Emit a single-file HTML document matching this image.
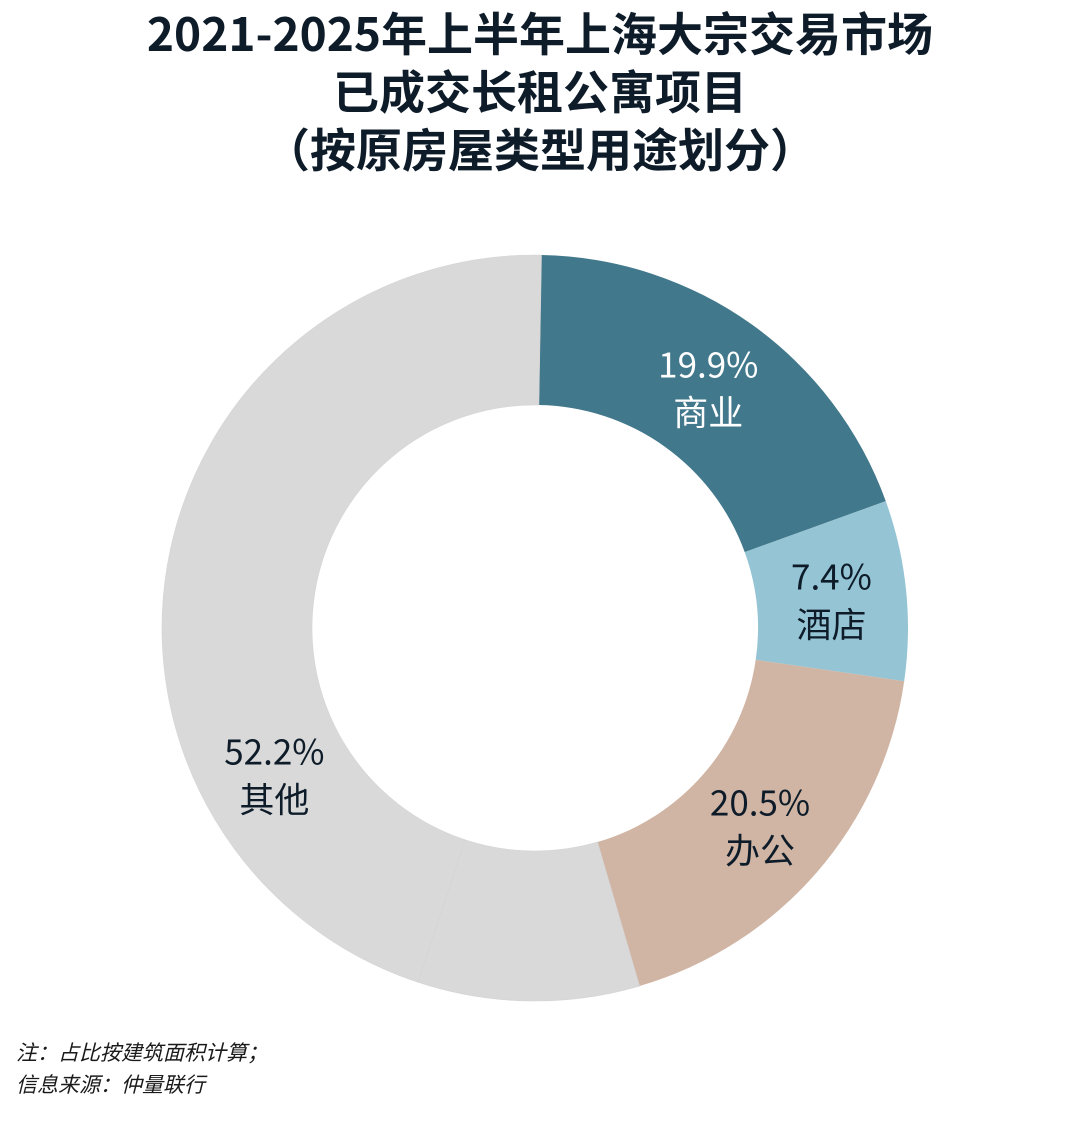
<!DOCTYPE html>
<html><head><meta charset="utf-8">
<style>
body{margin:0;background:#fff;width:1080px;height:1128px;overflow:hidden;font-family:"Noto Sans CJK SC","Liberation Sans",sans-serif;}
.title{position:absolute;left:0;width:1080px;text-align:center;font-weight:bold;font-size:46px;color:#0e1c2a;line-height:58px;top:3px;}
.note{position:absolute;left:16px;font-size:21px;font-style:italic;color:#1a1a1a;}
</style></head>
<body>
<div class="title">2021-2025年上半年上海大宗交易市场<br>已成交长租公寓项目<br>（按原房屋类型用途划分）</div>
<svg id="chart" width="1080" height="1128" style="position:absolute;left:0;top:0"></svg>
<div class="note" style="top:1037px">注：占比按建筑面积计算；</div>
<div class="note" style="top:1069px">信息来源：仲量联行</div>
<script>
const categories=["商业","酒店","办公","","其他"];
const values=[19.2,7.8,18.2,9.6,45.2];
const labels=["19.9%","7.4%","20.5%","","52.2%"];
const colors=["#41788c","#95c4d4","#d0b5a4","#d9d9d9","#d9d9d9"];
const textColors=["#ffffff","#0e1c2a","#0e1c2a","#0e1c2a","#0e1c2a"];
const svg=document.getElementById('chart');
const NS="http://www.w3.org/2000/svg";
const cx=535,cy=628,R=373,r=223,LR=298,start=1;
const total=values.reduce((a,b)=>a+b,0);
function pt(rad,deg){const a=(deg-90)*Math.PI/180;return [cx+rad*Math.cos(a),cy+rad*Math.sin(a)];}
let acc=start;
values.forEach((v,i)=>{
  const a0=acc,a1=acc+v/total*360;acc=a1;
  const large=(a1-a0)>180?1:0;
  const p0=pt(R,a0),p1=pt(R,a1),q1=pt(r,a1),q0=pt(r,a0);
  const d=`M${p0[0]},${p0[1]} A${R},${R} 0 ${large} 1 ${p1[0]},${p1[1]} L${q1[0]},${q1[1]} A${r},${r} 0 ${large} 0 ${q0[0]},${q0[1]} Z`;
  const p=document.createElementNS(NS,'path');
  p.setAttribute('d',d);p.setAttribute('fill',colors[i]);
  p.setAttribute('stroke','#d4d4d4');p.setAttribute('stroke-width',i>=3?'0.6':'0');
  
  
  svg.appendChild(p);
  if(!labels[i])return;
  const la=(i===4)?241:(a0+a1)/2;
  const m=pt(LR,la);
  [labels[i],categories[i]].forEach((s,j)=>{
    const t=document.createElementNS(NS,'text');
    t.setAttribute('x',m[0]);t.setAttribute('y',m[1]+(j===0?-8:40));
    t.setAttribute('text-anchor','middle');t.setAttribute('font-size','35');
    t.setAttribute('fill',textColors[i]);
    t.setAttribute('font-family','"Noto Sans CJK SC","Liberation Sans",sans-serif');
    t.textContent=s;
    
    
    svg.appendChild(t);
  });
});
</script>
</body></html>
